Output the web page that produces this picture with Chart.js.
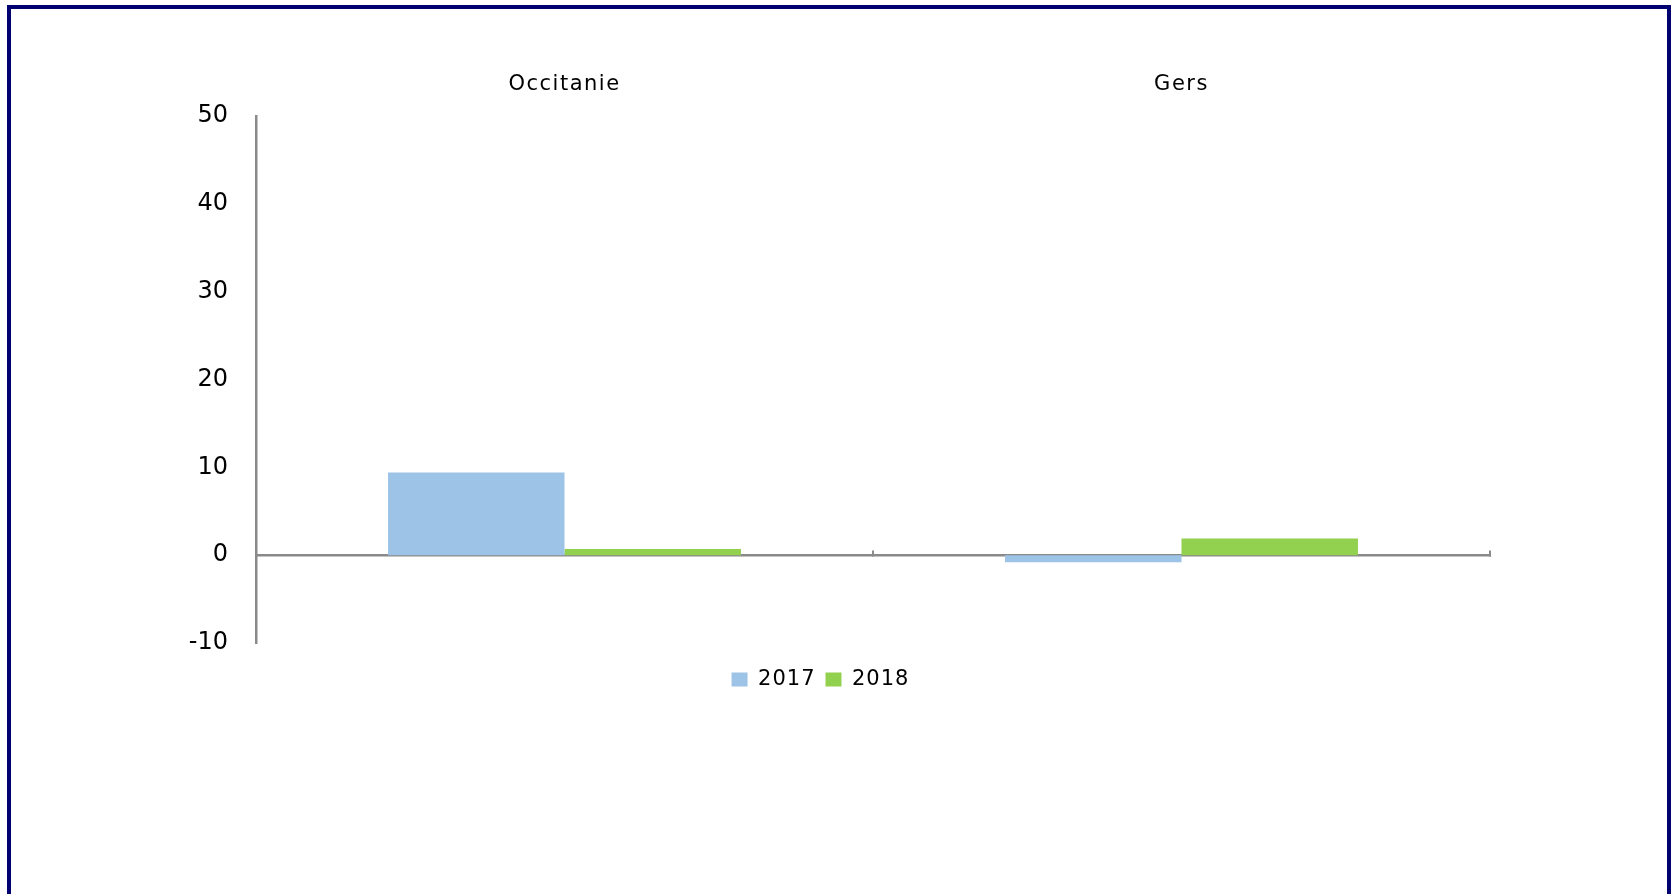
<!DOCTYPE html>
<html lang="fr">
<head>
<meta charset="utf-8">
<title>Occitanie - Gers</title>
<script src="https://cdn.jsdelivr.net/npm/chart.js@4/dist/chart.umd.min.js"></script>
<style>
    html, body { margin: 0; padding: 0; background: #fff; overflow: hidden; }
    #frame {
        position: absolute;
        left: 7px;
        top: 5px;
        width: 1656px;
        height: 900px;
        border: 4px solid #000070;
        background: #fff;
    }
    #chart { display: block; }
</style>
</head>
<body>
<div id="frame">
    <canvas id="chart" width="1656" height="885"></canvas>
</div>
<script>
const categories = ['Occitanie', 'Gers'];
const seriesLabels = ['2017', '2018'];
const values2017 = [9.4, -0.8];
const values2018 = [0.7, 1.9];
const yTicks = [-10, 0, 10, 20, 30, 40, 50];

const axisGrey = '#8a8a8a';

document.addEventListener("DOMContentLoaded", () => {
    renderChart();
});

function withLetterSpacing(target, method, spacing) {
    const original = target[method];
    target[method] = function (...args) {
        const ctx = this.ctx;
        const previous = ctx.letterSpacing;
        ctx.letterSpacing = spacing;
        try {
            return original.apply(this, args);
        } finally {
            ctx.letterSpacing = previous;
        }
    };
}

// the original labels are drawn a bit spaced out
const spacingPlugin = {
    id: 'spacing',
    beforeLayout(chart) {
        if (chart.legend && !chart.legend._spaced) {
            withLetterSpacing(chart.legend, 'fit', '1px');
            withLetterSpacing(chart.legend, 'draw', '1px');
            chart.legend._spaced = true;
        }
        const x = chart.scales.x;
        if (x && !x._spaced) {
            withLetterSpacing(x, 'draw', '1.5px');
            x._spaced = true;
        }
    }
};

function renderChart() {
    const ctx = document.getElementById('chart')?.getContext('2d');
    if (!ctx) return;

    new Chart(ctx, {
        type: 'bar',
        data: {
            labels: categories,
            datasets: [
                {
                    label: seriesLabels[0],
                    data: values2017,
                    backgroundColor: '#9dc3e6',
                    categoryPercentage: 0.572,
                    barPercentage: 1
                },
                {
                    label: seriesLabels[1],
                    data: values2018,
                    backgroundColor: '#92d050',
                    categoryPercentage: 0.572,
                    barPercentage: 1
                }
            ]
        },
        options: {
            responsive: false,
            animation: false,
            layout: {
                padding: { left: 140, right: 177, top: 47, bottom: 194 }
            },
            plugins: {
                tooltip: { enabled: false },
                legend: {
                    position: 'bottom',
                    labels: {
                        boxWidth: 16,
                        boxHeight: 14,
                        padding: 10,
                        color: '#000',
                        font: { family: 'DejaVu Sans', size: 21 }
                    }
                }
            },
            scales: {
                x: {
                    position: 'top',
                    grid: { display: false, drawTicks: false },
                    border: { display: false },
                    ticks: {
                        color: '#000',
                        padding: 19,
                        font: { family: 'DejaVu Sans', size: 21 }
                    },
                    afterFit(scale) { scale.height = 60; }
                },
                zeroLine: {
                    type: 'category',
                    axis: 'x',
                    position: { y: 0 },
                    offset: true,
                    grid: {
                        display: true,
                        offset: true,
                        drawOnChartArea: false,
                        drawTicks: true,
                        tickLength: -6,
                        color: axisGrey,
                        lineWidth: 2
                    },
                    border: { display: true, color: axisGrey, width: 2.5 },
                    ticks: { display: false }
                },
                gap: {
                    type: 'linear',
                    axis: 'x',
                    position: 'bottom',
                    grid: { display: false, drawTicks: false },
                    border: { display: false },
                    ticks: { display: false },
                    afterFit(scale) { scale.height = 16; }
                },
                y: {
                    min: yTicks[0],
                    max: yTicks[yTicks.length - 1],
                    afterBuildTicks(scale) {
                        scale.ticks = yTicks.map(v => ({ value: v }));
                    },
                    grid: { display: false, drawTicks: false },
                    border: { display: true, color: axisGrey, width: 2.5 },
                    ticks: {
                        color: '#000',
                        padding: 28,
                        font: { family: 'DejaVu Sans', size: 24 }
                    },
                    afterFit(scale) { scale.width = 105; }
                }
            }
        },
        plugins: [spacingPlugin]
    });
}
</script>
</body>
</html>
